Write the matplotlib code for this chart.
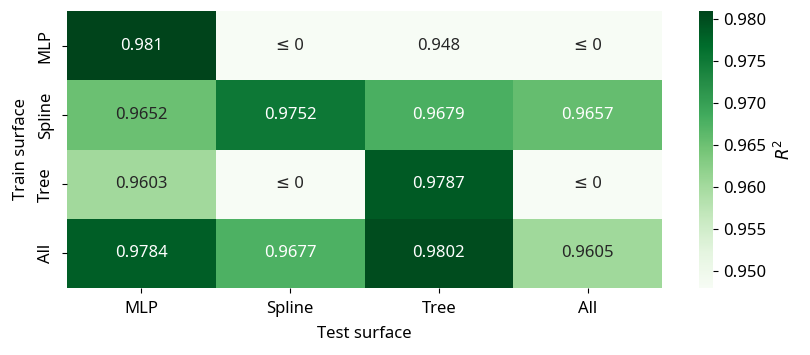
import numpy as np
import matplotlib
matplotlib.use('Agg')
import matplotlib.pyplot as plt
import seaborn as sns

plt.rcParams['font.family'] = ['Noto Sans', 'DejaVu Sans']

surfaces = ['MLP', 'Spline', 'Tree', 'All']
# rows = train surface, cols = test surface; negative means R^2 <= 0
r2 = np.array([
    [0.9810, -1.0, 0.9480, -1.0],
    [0.9652, 0.9752, 0.9679, 0.9657],
    [0.9603, -1.0, 0.9787, -1.0],
    [0.9784, 0.9677, 0.9802, 0.9605],
])

labels = np.array([["≤ 0" if v <= 0 else f"{v:.4g}" for v in row] for row in r2])
pos = r2[r2 > 0]

W, H = 810, 355
fig = plt.figure(figsize=(8.1, 3.55), dpi=100)
ax = fig.add_axes([67 / W, (H - 288) / H, (662 - 67) / W, 277 / H])
cax = fig.add_axes([699 / W, (H - 288) / H, 14 / W, 277 / H])
sns.heatmap(r2, annot=labels, fmt='', cmap='Greens',
            vmin=pos.min(), vmax=pos.max(),
            xticklabels=surfaces, yticklabels=surfaces,
            annot_kws={'fontsize': 12},
            cbar_ax=cax, cbar_kws={'label': '$R^2$'}, ax=ax)
ax.set_xlabel('Test surface', fontsize=12, labelpad=6)
ax.set_ylabel('Train surface', fontsize=12, labelpad=6)
ax.tick_params(labelsize=12, pad=6)
cax.tick_params(labelsize=12)
cax.yaxis.label.set_size(12)
cax.yaxis.labelpad = 6

fig.savefig('out.png')
